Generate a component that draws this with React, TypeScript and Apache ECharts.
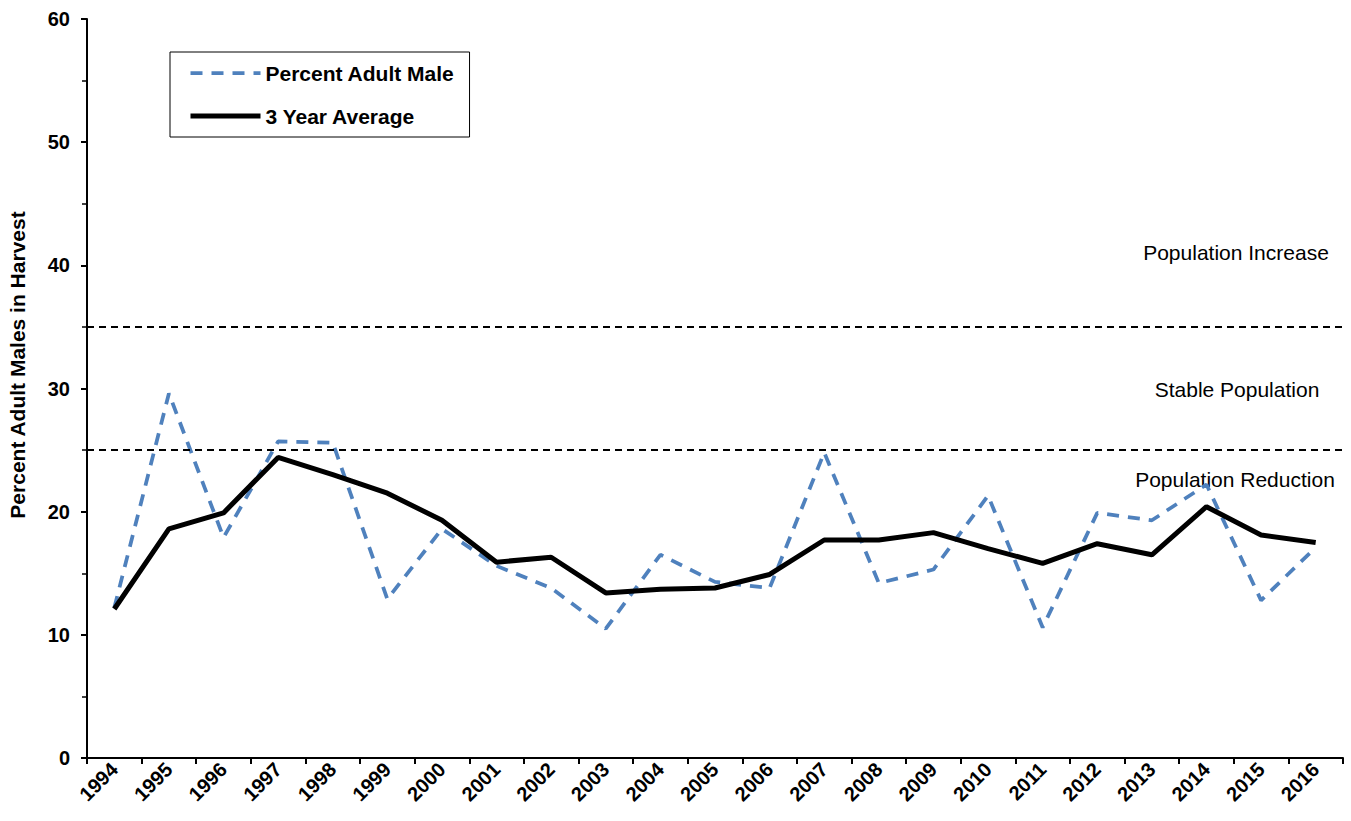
import React, { useEffect, useRef } from "react";
import * as echarts from "echarts";

const years = ["1994","1995","1996","1997","1998","1999","2000","2001","2002","2003","2004","2005","2006","2007","2008","2009","2010","2011","2012","2013","2014","2015","2016"];
const percentAdultMale = [12.2, 29.6, 17.9, 25.7, 25.6, 12.9, 18.6, 15.6, 13.8, 10.5, 16.5, 14.3, 13.8, 24.8, 14.2, 15.3, 21.3, 10.6, 19.9, 19.3, 22.2, 12.8, 17.1];
const threeYearAverage = [12.1, 18.6, 19.9, 24.4, 23.0, 21.5, 19.3, 15.9, 16.3, 13.4, 13.7, 13.8, 14.9, 17.7, 17.7, 18.3, 17.0, 15.8, 17.4, 16.5, 20.4, 18.1, 17.5];
const thresholds = [35, 25];
const zoneLabels = ["Population Increase", "Stable Population", "Population Reduction"];

const FONT = "Liberation Sans, Arial, sans-serif";
const BLUE = "#4F81BD";
const blueLine = { color: BLUE, width: 3.75, type: [12, 9] };
const blackLine = { color: "#000", width: 5, type: "solid" };

export default function App() {
  const ref = useRef<HTMLDivElement>(null);
  useEffect(() => {
    if (!ref.current) return;
    const chart = echarts.init(ref.current, undefined, { renderer: "svg" });
    chart.setOption({
      animation: false,
      backgroundColor: "#ffffff",
      textStyle: { fontFamily: FONT },
      grid: { left: 87, right: 8, top: 19, bottom: 63, containLabel: false },
      legend: {
        orient: "vertical",
        left: 170,
        top: 52,
        padding: [9, 15, 9, 18],
        borderColor: "#000",
        borderWidth: 1,
        itemWidth: 70,
        itemHeight: 24,
        itemGap: 19,
        textStyle: { fontFamily: FONT, fontWeight: "bold", fontSize: 21, color: "#000", lineHeight: 24 },
        data: [
          { name: "Percent Adult Male", itemStyle: { opacity: 0 }, lineStyle: blueLine },
          { name: "3 Year Average", itemStyle: { opacity: 0 }, lineStyle: blackLine },
        ],
      },
      xAxis: {
        type: "category",
        data: years,
        boundaryGap: true,
        axisLine: { lineStyle: { color: "#000", width: 2 } },
        axisTick: { show: true, length: 6, lineStyle: { color: "#000", width: 2 } },
        axisLabel: { rotate: 45, margin: 8, interval: 0, fontFamily: FONT, fontWeight: "bold", fontSize: 20, color: "#000" },
        splitLine: { show: false },
      },
      yAxis: {
        type: "value",
        min: 0,
        max: 60,
        interval: 10,
        axisLine: { show: true, lineStyle: { color: "#000", width: 2 } },
        axisTick: { show: true, length: 6, lineStyle: { color: "#000", width: 2 } },
        minorTick: { show: true, splitNumber: 2, length: 5, lineStyle: { color: "#000", width: 1.5 } },
        axisLabel: { margin: 17, fontFamily: FONT, fontWeight: "bold", fontSize: 20, color: "#000" },
        splitLine: { show: false },
      },
      series: [
        {
          name: "Percent Adult Male",
          type: "line",
          data: percentAdultMale,
          symbol: "none",
          lineStyle: blueLine,
          itemStyle: { color: BLUE },
          markLine: {
            silent: true,
            symbol: "none",
            label: { show: false },
            lineStyle: { color: "#000", width: 2, type: [7, 5] },
            data: thresholds.map((v) => ({ yAxis: v })),
          },
          z: 2,
        },
        {
          name: "3 Year Average",
          type: "line",
          data: threeYearAverage,
          symbol: "none",
          lineStyle: blackLine,
          itemStyle: { color: "#000" },
          z: 3,
        },
      ],
      graphic: [
        {
          type: "text",
          x: 17,
          y: 365,
          rotation: Math.PI / 2,
          style: { text: "Percent Adult Males in Harvest", fontFamily: FONT, fontWeight: "bold", fontSize: 21, fill: "#000", align: "center", verticalAlign: "middle" },
        },
        {
          type: "text",
          x: 1236,
          y: 252,
          style: { text: zoneLabels[0], fontFamily: FONT, fontSize: 21, fill: "#000", align: "center", verticalAlign: "middle" },
        },
        {
          type: "text",
          x: 1237,
          y: 389,
          style: { text: zoneLabels[1], fontFamily: FONT, fontSize: 21, fill: "#000", align: "center", verticalAlign: "middle" },
        },
        {
          type: "text",
          x: 1235,
          y: 479,
          style: { text: zoneLabels[2], fontFamily: FONT, fontSize: 21, fill: "#000", align: "center", verticalAlign: "middle" },
        },
      ],
    });
    return () => chart.dispose();
  }, []);
  return <div ref={ref} style={{ width: 1351, height: 821, position: "absolute", left: 0, top: 0 }} />;
}
